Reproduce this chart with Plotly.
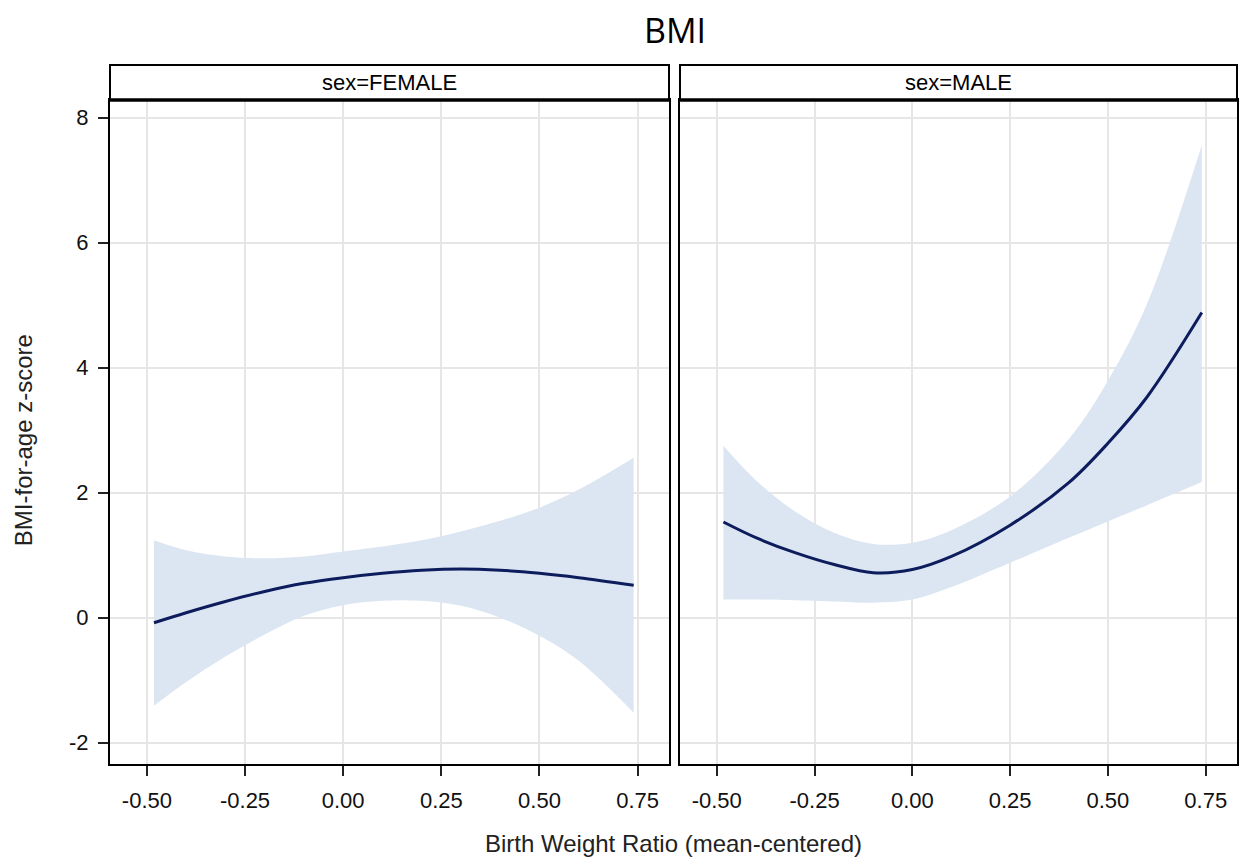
import plotly.graph_objects as go

# ---- data ----
female_x = [-0.482, -0.4, -0.3, -0.2, -0.1, 0.0, 0.1, 0.2, 0.3, 0.4, 0.5, 0.6, 0.74]
female_fit = [-0.08, 0.08, 0.26, 0.42, 0.55, 0.64, 0.71, 0.76, 0.78, 0.76, 0.71, 0.64, 0.52]
female_upper = [1.24, 1.08, 0.98, 0.95, 0.98, 1.06, 1.14, 1.24, 1.38, 1.55, 1.76, 2.05, 2.56]
female_lower = [-1.41, -1.03, -0.62, -0.27, 0.03, 0.20, 0.27, 0.27, 0.19, 0.0, -0.29, -0.69, -1.52]

male_x = [-0.483, -0.4, -0.3, -0.2, -0.1, 0.0, 0.1, 0.25, 0.4, 0.5, 0.6, 0.74]
male_fit = [1.53, 1.28, 1.04, 0.85, 0.72, 0.77, 0.98, 1.48, 2.16, 2.79, 3.53, 4.88]
male_upper = [2.75, 2.20, 1.70, 1.36, 1.18, 1.20, 1.40, 1.94, 2.86, 3.79, 5.02, 7.56]
male_lower = [0.29, 0.29, 0.28, 0.26, 0.24, 0.29, 0.49, 0.88, 1.28, 1.54, 1.80, 2.17]

panels = ["sex=FEMALE", "sex=MALE"]
x_ticks = [-0.50, -0.25, 0.00, 0.25, 0.50, 0.75]
x_tick_labels = ["-0.50", "-0.25", "0.00", "0.25", "0.50", "0.75"]
y_ticks = [-2, 0, 2, 4, 6, 8]
y_tick_labels = ["-2", "0", "2", "4", "6", "8"]

BAND = "#dce6f2"
LINE = "#0d1c5c"
GRID = "#e6e6e6"
FONT = "Liberation Sans, Arial, sans-serif"

fig = go.Figure()

series = [
    (female_x, female_fit, female_upper, female_lower, "x", "y"),
    (male_x, male_fit, male_upper, male_lower, "x2", "y2"),
]
for xs, fit, up, lo, xa, ya in series:
    fig.add_trace(go.Scatter(x=xs, y=up, mode="lines", line=dict(width=0, shape="spline"),
                             xaxis=xa, yaxis=ya, showlegend=False, hoverinfo="skip"))
    fig.add_trace(go.Scatter(x=xs, y=lo, mode="lines", line=dict(width=0, shape="spline"),
                             fill="tonexty", fillcolor=BAND,
                             xaxis=xa, yaxis=ya, showlegend=False, hoverinfo="skip"))
    fig.add_trace(go.Scatter(x=xs, y=fit, mode="lines",
                             line=dict(color=LINE, width=3, shape="spline"),
                             xaxis=xa, yaxis=ya, showlegend=False))

# page body has an 8px margin; compensate so the picture lands at 1248x858 positions
OFF = 8
W, H = 1248 - OFF, 858 - OFF
ml, mr, mt, mb = 110 - OFF, 9, 100 - OFF, 94
pw = W - ml - mr
ph = H - mt - mb
strip_h = 35 / ph

dom1 = [0, (670 - 110) / pw]
dom2 = [(681 - 110) / pw, 1]

tickfont = dict(family=FONT, size=22, color="#111111")
xcommon = dict(range=[-0.594, 0.83], tickvals=x_ticks, ticktext=x_tick_labels,
               showgrid=True, gridcolor=GRID, gridwidth=1.5, zeroline=False,
               showline=True, linecolor="black", linewidth=2, mirror=True,
               ticks="outside", ticklen=10, tickwidth=1.8, tickcolor="#222222",
               ticklabelstandoff=6, tickfont=tickfont)
ycommon = dict(range=[-2.34, 8.28], tickvals=y_ticks, ticktext=y_tick_labels,
               showgrid=True, gridcolor=GRID, gridwidth=1.5, zeroline=False,
               showline=True, linecolor="black", linewidth=2, mirror=True,
               tickfont=tickfont)

fig.update_layout(
    width=W, height=H,
    margin=dict(l=ml, r=mr, t=mt, b=mb),
    paper_bgcolor="white", plot_bgcolor="white",
    title=dict(text="BMI", x=(675 - OFF) / W, xref="container", xanchor="center",
               y=1 - (31 - OFF) / H, yanchor="middle", yref="container",
               font=dict(family="Open Sans, sans-serif", size=34, color="black")),
    xaxis=dict(domain=dom1, anchor="y", **xcommon),
    xaxis2=dict(domain=dom2, anchor="y2", **xcommon),
    yaxis=dict(domain=[0, 1], anchor="x", ticks="outside", ticklen=10, tickwidth=1.8,
               tickcolor="#222222", ticklabelstandoff=5, **ycommon),
    yaxis2=dict(domain=[0, 1], anchor="x2", showticklabels=False, ticks="", **ycommon),
)

for i, name in enumerate(panels):
    xr = "x domain" if i == 0 else "x2 domain"
    yr = "y domain" if i == 0 else "y2 domain"
    fig.add_shape(type="rect", xref=xr, yref=yr, x0=0, x1=1, y0=1, y1=1 + strip_h,
                  line=dict(color="black", width=2), fillcolor="white", layer="above")
    fig.add_shape(type="line", xref=xr, yref=yr, x0=0, x1=1, y0=1, y1=1,
                  line=dict(color="black", width=3.5), layer="above")
    fig.add_annotation(xref=xr, yref=yr, x=0.5, y=1 + strip_h / 2, text=name,
                       showarrow=False, xanchor="center", yanchor="middle",
                       font=dict(family=FONT, size=22, color="black"))

fig.add_annotation(xref="paper", yref="paper", x=(675 - 110) / pw, y=-(843 - 764) / ph,
                   text="Birth Weight Ratio (mean-centered)", showarrow=False,
                   xanchor="center", yanchor="middle",
                   font=dict(family=FONT, size=24, color="#222222"))
fig.add_annotation(xref="paper", yref="paper", x=-(110 - 24) / pw, y=(764 - 440) / ph,
                   text="BMI-for-age z-score", showarrow=False, textangle=-90,
                   xanchor="center", yanchor="middle",
                   font=dict(family=FONT, size=24, color="#222222"))

fig.write_html("out.html")
